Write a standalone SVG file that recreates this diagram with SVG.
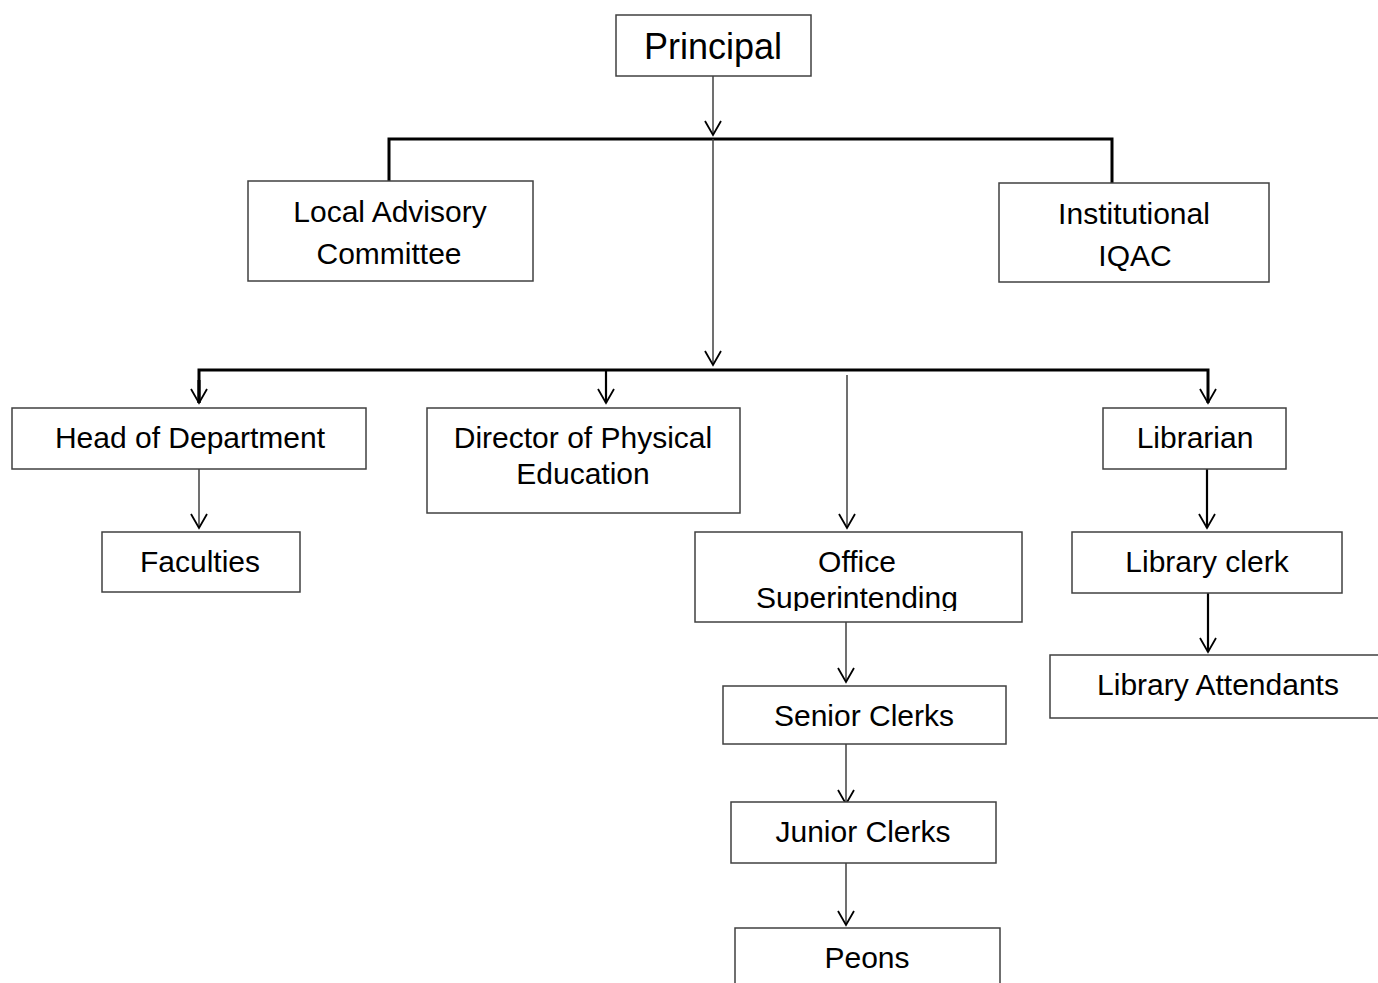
<svg xmlns="http://www.w3.org/2000/svg" width="1378" height="983" viewBox="0 0 1378 983">
<style>
.box{fill:#fff;stroke:#404040;stroke-width:1.5}
.t{font-family:"Liberation Sans",Arial,sans-serif;font-size:30px;fill:#000;text-anchor:middle}
.thin{fill:none;stroke:#404040;stroke-width:1.5}
.thick{fill:none;stroke:#000;stroke-width:3}
.mid{fill:none;stroke:#000;stroke-width:2.2}
</style>
<defs>
<marker id="ah" markerUnits="userSpaceOnUse" markerWidth="30" markerHeight="30" refX="0" refY="0" orient="auto" overflow="visible">
<path d="M-14,-8 L0,0 L-14,8" fill="none" stroke="#000" stroke-width="1.8"/>
</marker>
<clipPath id="clipOS"><rect x="695" y="532" width="327" height="79"/></clipPath>
</defs>
<g id="connectors">
<line class="thin" x1="713" y1="76" x2="713" y2="135" marker-end="url(#ah)"/>
<path class="thick" d="M389,181 V139 H1112 V183"/>
<line class="thin" x1="713" y1="139" x2="713" y2="365" marker-end="url(#ah)"/>
<path class="thick" d="M199,403 V370 H1208 V403" marker-end="url(#ah)"/>
<path class="thick" d="M199,380 V403" marker-end="url(#ah)"/>
<line class="mid" x1="606" y1="370" x2="606" y2="403" marker-end="url(#ah)"/>
<line class="thin" x1="847" y1="375" x2="847" y2="528" marker-end="url(#ah)"/>
<line class="thin" x1="199" y1="469" x2="199" y2="528" marker-end="url(#ah)"/>
<line class="mid" x1="1207" y1="469" x2="1207" y2="528" marker-end="url(#ah)"/>
<line class="mid" x1="1208" y1="593" x2="1208" y2="652" marker-end="url(#ah)"/>
<line class="thin" x1="846" y1="622" x2="846" y2="682" marker-end="url(#ah)"/>
<line class="thin" x1="846" y1="744" x2="846" y2="804" marker-end="url(#ah)"/>
<line class="thin" x1="846" y1="863" x2="846" y2="925" marker-end="url(#ah)"/>
</g>
<g id="principal"><rect class="box" x="616" y="15" width="195" height="61"/><text class="t" x="713" y="59" style="font-size:36px">Principal</text></g>
<g id="local-advisory"><rect class="box" x="248" y="181" width="285" height="100"/><text class="t" x="390" y="222">Local Advisory</text><text class="t" x="389" y="264">Committee</text></g>
<g id="institutional"><rect class="box" x="999" y="183" width="270" height="99"/><text class="t" x="1134" y="224">Institutional</text><text class="t" x="1135" y="266">IQAC</text></g>
<g id="hod"><rect class="box" x="12" y="408" width="354" height="61"/><text class="t" x="190" y="448">Head of Department</text></g>
<g id="faculties"><rect class="box" x="102" y="532" width="198" height="60"/><text class="t" x="200" y="572">Faculties</text></g>
<g id="director"><rect class="box" x="427" y="408" width="313" height="105"/><text class="t" x="583" y="448">Director of Physical</text><text class="t" x="583" y="484">Education</text></g>
<g id="librarian"><rect class="box" x="1103" y="408" width="183" height="61"/><text class="t" x="1195" y="448">Librarian</text></g>
<g id="library-clerk"><rect class="box" x="1072" y="532" width="270" height="61"/><text class="t" x="1207" y="572">Library clerk</text></g>
<g id="library-attendants"><rect class="box" x="1050" y="655" width="340" height="63"/><text class="t" x="1218" y="695">Library Attendants</text></g>
<g id="office"><rect class="box" x="695" y="532" width="327" height="90"/><text class="t" x="857" y="572">Office</text><text class="t" x="857" y="608" clip-path="url(#clipOS)">Superintending</text></g>
<g id="senior-clerks"><rect class="box" x="723" y="686" width="283" height="58"/><text class="t" x="864" y="726">Senior Clerks</text></g>
<g id="junior-clerks"><rect class="box" x="731" y="802" width="265" height="61"/><text class="t" x="863" y="842">Junior Clerks</text></g>
<g id="peons"><rect class="box" x="735" y="928" width="265" height="70"/><text class="t" x="867" y="968">Peons</text></g>
</svg>
